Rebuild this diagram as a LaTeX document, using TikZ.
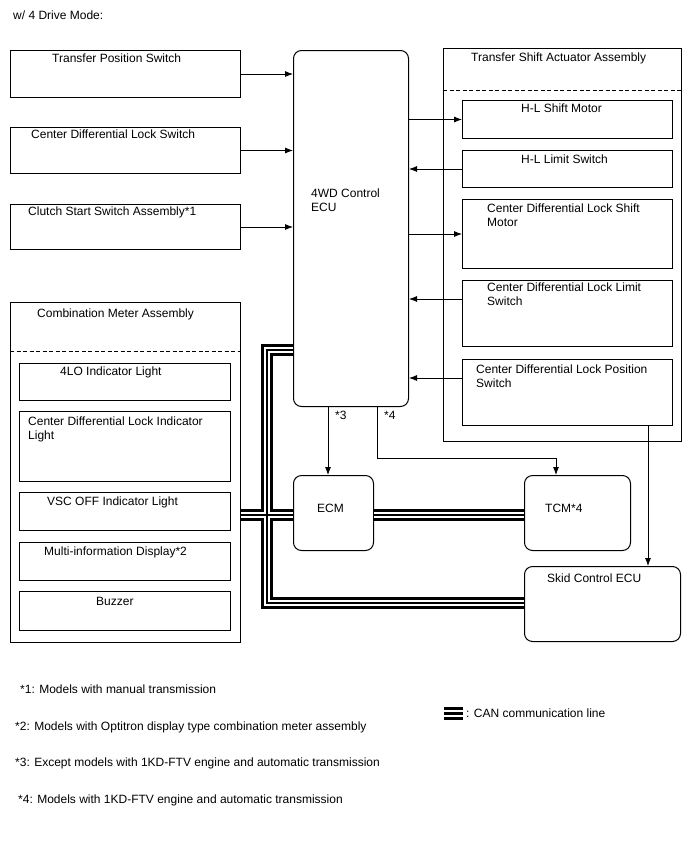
\documentclass[tikz,border=0pt]{standalone}
\usepackage{fontspec}
\setmainfont{Liberation Sans}
\usetikzlibrary{
arrows.meta,
positioning
}

\begin{document}
\begin{tikzpicture}[
x=1pt, y=-1pt,
box/.style={
draw,
line width=1pt,
anchor=north west,
inner sep=0pt
},
ecubox/.style={box, rounded corners=8pt},
txt/.style={
anchor=north west,
inner sep=0pt,
yshift=-1pt,
align=left,
font=\fontsize{12}{14}\selectfont
},
arrow/.style={-{Latex[length=8pt,width=6pt]},line width=0.8pt},
can/.style={
line width=1.5pt,
preaction={draw,line width=12pt},
preaction={draw=white,line width=6pt}
},
sep/.style={dash pattern=on 4pt off 2.5pt,line width=0.7pt}
]
\useasboundingbox (0,0) rectangle (688,852);

\node[txt] (title) at (13,10) {w/ 4 Drive Mode:};

% switches on the left
\node[box, minimum width=230pt, minimum height=47pt] (tps) at (10,50) {};
\node[box, minimum width=230pt, minimum height=46pt] (cdls) at (10,127) {};
\node[box, minimum width=230pt, minimum height=45pt] (css) at (10,204) {};
\node[txt] (tps-t) at ([shift={(42,3)}]tps.north west) {Transfer Position Switch};
\node[txt] (cdls-t) at ([shift={(21,2)}]cdls.north west) {Center Differential Lock Switch};
\node[txt] (css-t) at ([shift={(18,2)}]css.north west) {Clutch Start Switch Assembly*1};

% ECUs
\node[ecubox, minimum width=115pt, minimum height=356pt] (ecu) at (293,50) {};
\node[txt] (ecu-t) at ([shift={(18,138)}]ecu.north west) {4WD Control\\ECU};
\node[ecubox, minimum width=80pt, minimum height=75pt] (ecm) at (293,475) {};
\node[txt] (ecm-t) at ([shift={(24,28)}]ecm.north west) {ECM};
\node[ecubox, minimum width=106pt, minimum height=75pt] (tcm) at (524,475) {};
\node[txt] (tcm-t) at ([shift={(21,28)}]tcm.north west) {TCM*4};
\node[ecubox, minimum width=156pt, minimum height=75pt] (skid) at (524,566) {};
\node[txt] (skid-t) at ([shift={(23,7)}]skid.north west) {Skid Control ECU};

% combination meter
\node[box, minimum width=230pt, minimum height=340pt] (meter) at (10,302) {};
\node[txt] (meter-t) at ([shift={(27,6)}]meter.north west) {Combination Meter Assembly};
\draw[sep] ([yshift=-49pt]meter.north west) -- ([yshift=-49pt]meter.north east);
\node[box, minimum width=211pt, minimum height=37pt] (lo) at (19,363) {};
\node[box, minimum width=211pt, minimum height=70pt] (cdli) at (19,411) {};
\node[box, minimum width=211pt, minimum height=38pt] (vsc) at (19,492) {};
\node[box, minimum width=211pt, minimum height=38pt] (mid) at (19,542) {};
\node[box, minimum width=211pt, minimum height=39pt] (buz) at (19,591) {};
\node[txt] (lo-t) at ([shift={(41,3)}]lo.north west) {4LO Indicator Light};
\node[txt] (cdli-t) at ([shift={(9,5)}]cdli.north west) {Center Differential Lock Indicator\\Light};
\node[txt] (vsc-t) at ([shift={(28,4)}]vsc.north west) {VSC OFF Indicator Light};
\node[txt] (mid-t) at ([shift={(25,4)}]mid.north west) {Multi-information Display*2};
\node[txt] (buz-t) at ([shift={(77,5)}]buz.north west) {Buzzer};

% transfer shift actuator
\node[box, minimum width=238pt, minimum height=393pt] (tsa) at (443,48) {};
\node[txt] (tsa-t) at ([shift={(28,4)}]tsa.north west) {Transfer Shift Actuator Assembly};
\draw[sep] ([yshift=-42pt]tsa.north west) -- ([yshift=-42pt]tsa.north east);
\node[box, minimum width=210pt, minimum height=38pt] (hlm) at (462,100) {};
\node[box, minimum width=210pt, minimum height=37pt] (hll) at (462,150) {};
\node[box, minimum width=210pt, minimum height=69pt] (cdlm) at (462,199) {};
\node[box, minimum width=210pt, minimum height=66pt] (cdll) at (462,280) {};
\node[box, minimum width=210pt, minimum height=66pt] (cdlp) at (462,359) {};
\node[txt] (hlm-t) at ([shift={(59,3)}]hlm.north west) {H-L Shift Motor};
\node[txt] (hll-t) at ([shift={(59,4)}]hll.north west) {H-L Limit Switch};
\node[txt] (cdlm-t) at ([shift={(25,4)}]cdlm.north west) {Center Differential Lock Shift\\Motor};
\node[txt] (cdll-t) at ([shift={(25,2)}]cdll.north west) {Center Differential Lock Limit\\Switch};
\node[txt] (cdlp-t) at ([shift={(14,5)}]cdlp.north west) {Center Differential Lock Position\\Switch};

% signal lines
\draw[arrow] (tps.east) -- (tps.east -| ecu.west);
\draw[arrow] (cdls.east) -- (cdls.east -| ecu.west);
\draw[arrow] (css.east) -- (css.east -| ecu.west);
\draw[arrow] (hlm.west -| ecu.east) -- (hlm.west);
\draw[arrow] (hll.west) -- (hll.west -| ecu.east);
\draw[arrow] (cdlm.west -| ecu.east) -- (cdlm.west);
\draw[arrow] ([yshift=-19pt]cdll.north west) -- ([yshift=-19pt]cdll.north west -| ecu.east);
\draw[arrow] ([yshift=-19pt]cdlp.north west) -- ([yshift=-19pt]cdlp.north west -| ecu.east);
\draw[arrow] ([xshift=35pt]ecu.south west) -- ([xshift=35pt]ecm.north west);
\draw[arrow] ([xshift=84pt]ecu.south west) -- ++(0,51) -| ([xshift=32pt]tcm.north west);
\draw[arrow] ([xshift=186pt]cdlp.south west) -- ([xshift=124pt]skid.north west);
\node[txt] (n3) at (335,410) {*3};
\node[txt] (n4) at (384,410) {*4};

% CAN bus
\coordinate (trunk) at (267,603);
\coordinate (canrow) at (0,515);
\draw[can] ([yshift=-300pt]ecu.north west) -| (trunk) -- (trunk -| skid.west)
(meter.east |- canrow) -- (ecm.west |- canrow)
(ecm.east |- canrow) -- (tcm.west |- canrow);

% notes
\node[txt] (note1) at (20,684) {*1: Models with manual transmission};
\node[txt] (note2) at (15,721) {*2: Models with Optitron display type combination meter assembly};
\node[txt] (note3) at (15,757) {*3: Except models with 1KD-FTV engine and automatic transmission};
\node[txt] (note4) at (18,794) {*4: Models with 1KD-FTV engine and automatic transmission};

\coordinate (key) at (444,713.5);
\foreach \d in {-5,0,5}
\draw[line width=3.5pt] ([yshift=\d pt]key) -- ++(19,0);
\node[txt] (key-t) at (466,708) {: CAN communication line};

\end{tikzpicture}
\end{document}
